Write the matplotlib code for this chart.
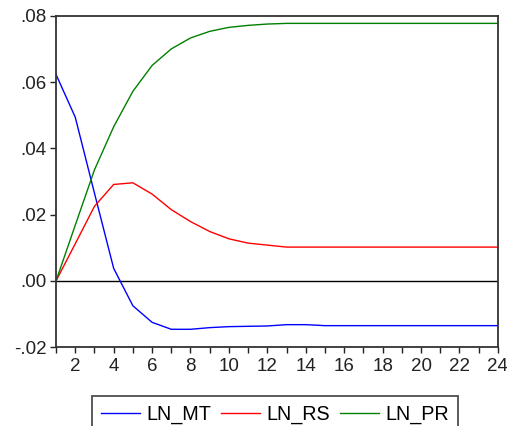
import numpy as np
import matplotlib.pyplot as plt

plt.rcParams['font.family'] = ['Liberation Sans', 'DejaVu Sans']

# ------------------------------------------------------
# DATA (impulse responses)
# ------------------------------------------------------
periods = list(range(1, 25))

ln_mt = [0.0623, 0.0494, 0.0265, 0.0038, -0.0075, -0.0125, -0.0146, -0.0146,
         -0.0141, -0.0138, -0.0137, -0.0136, -0.0132, -0.0132, -0.0135, -0.0135,
         -0.0135, -0.0135, -0.0135, -0.0135, -0.0135, -0.0135, -0.0135, -0.0135]

ln_rs = [0.0, 0.0112, 0.0225, 0.0291, 0.0296, 0.0262, 0.0215, 0.0179,
         0.0149, 0.0127, 0.0114, 0.0108, 0.0102, 0.0102, 0.0102, 0.0102,
         0.0102, 0.0102, 0.0102, 0.0102, 0.0102, 0.0102, 0.0102, 0.0102]

ln_pr = [0.0, 0.0168, 0.0335, 0.0465, 0.0572, 0.0650, 0.0700, 0.0733,
         0.0753, 0.0765, 0.0771, 0.0775, 0.0777, 0.0777, 0.0777, 0.0777,
         0.0777, 0.0777, 0.0777, 0.0777, 0.0777, 0.0777, 0.0777, 0.0777]

series_names = ['LN_MT', 'LN_RS', 'LN_PR']
series_colors = ['#0000ff', '#ff0000', '#008000']

y_ticks = [-0.02, 0.00, 0.02, 0.04, 0.06, 0.08]
y_tick_labels = ['-.02', '.00', '.02', '.04', '.06', '.08']

# ------------------------------------------------------
# PLOT
# ------------------------------------------------------
fig = plt.figure(figsize=(5.07, 4.26), dpi=100)
ax = fig.add_axes([0.1105, 0.185, 0.8715, 0.778])

for vals, name, col in zip([ln_mt, ln_rs, ln_pr], series_names, series_colors):
    ax.plot(periods, vals, color=col, lw=1.0, label=name)

ax.axhline(0, color='black', lw=1.0, zorder=1)

ax.set_xlim(1, 24)
ax.set_ylim(-0.02, 0.08)
ax.set_yticks(y_ticks)
ax.set_yticklabels(y_tick_labels)
ax.set_xticks(list(range(2, 25, 2)))
ax.set_xticks(periods, minor=True)

ax.tick_params(axis='both', which='both', direction='out', length=4, width=1,
               labelsize=13.5, colors='#222222', pad=3)
ax.tick_params(axis='x', which='major', pad=4)

for sp in ax.spines.values():
    sp.set_linewidth(1.3)
    sp.set_color('#333333')

leg = fig.legend(loc='upper left', bbox_to_anchor=(92 / 507, 1 - 396 / 426),
                 ncol=3, fontsize=14.2, frameon=True, fancybox=False,
                 handlelength=2.0, handletextpad=0.3, columnspacing=0.5,
                 borderpad=0.45, borderaxespad=0)
leg.get_frame().set_edgecolor('#222222')
leg.get_frame().set_linewidth(1.3)

fig.savefig('out.png', dpi=100)
